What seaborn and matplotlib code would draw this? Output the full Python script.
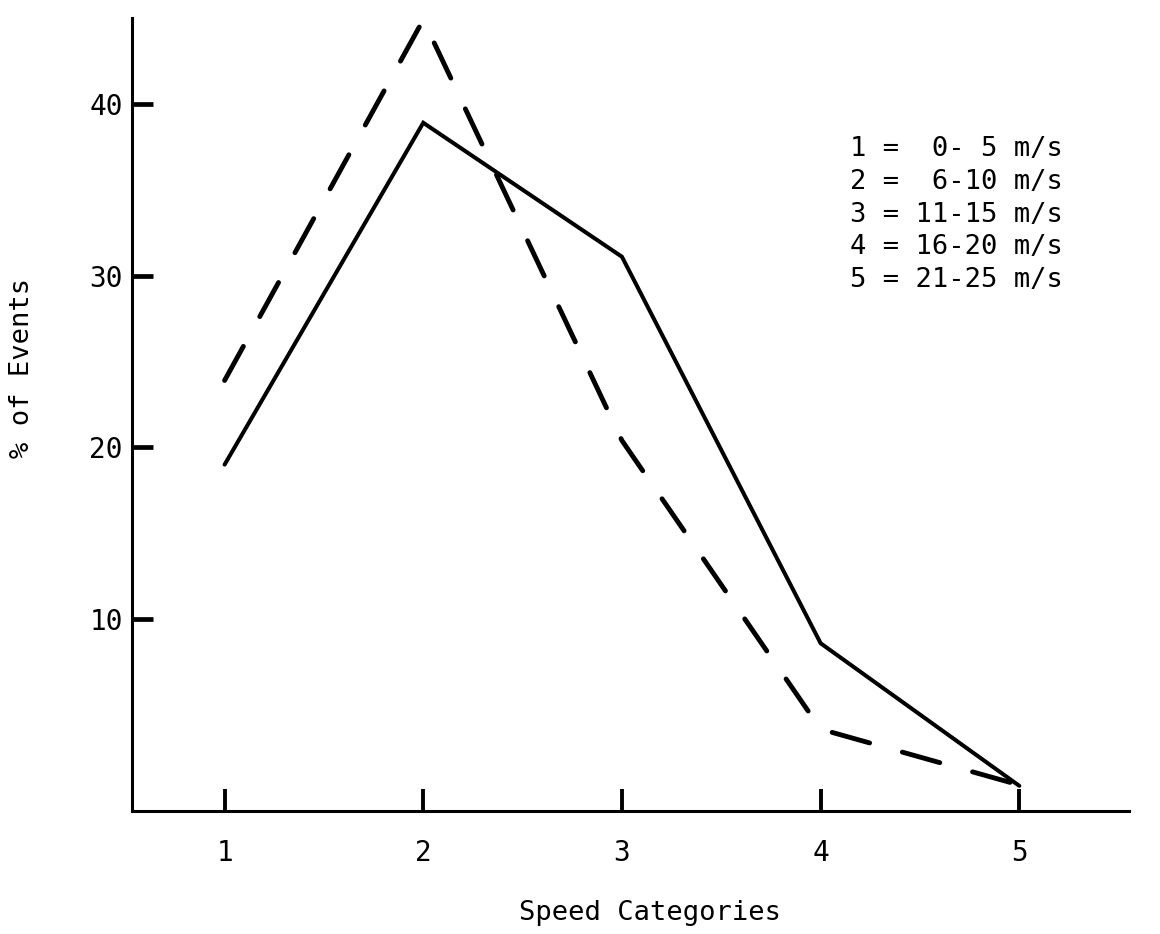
import matplotlib
matplotlib.use("Agg")
import matplotlib.pyplot as plt
import seaborn as sns
import pandas as pd

# ---- data ----
CATEGORIES = [1, 2, 3, 4, 5]
SOLID_PCT = [19.0, 38.9, 31.1, 8.6, 0.3]
DASHED_PCT = [23.9, 44.9, 20.4, 3.6, 0.35]
Y_TICKS = [10, 20, 30, 40]
SPEED_RANGES = ["0- 5", "6-10", "11-15", "16-20", "21-25"]
XLABEL = "Speed Categories"
YLABEL = "% of Events"

sns.set_style("white")
plt.rcParams["font.family"] = ["DejaVu Sans Mono", "DejaVu Sans"]

W, H = 1160, 934
fig = plt.figure(figsize=(W / 100, H / 100), dpi=100)
ax = fig.add_axes([132 / W, 1 - 811 / H, (1129 - 132) / W, (811 - 18) / H])

solid = pd.DataFrame({"cat": CATEGORIES, "pct": SOLID_PCT})
dashed = pd.DataFrame({"cat": CATEGORIES, "pct": DASHED_PCT})

sns.lineplot(data=solid, x="cat", y="pct", ax=ax, color="black", lw=2.9,
             solid_joinstyle="miter")
sns.lineplot(data=dashed, x="cat", y="pct", ax=ax, color="black", lw=3.5,
             linestyle=(0, (8, 7)), dash_capstyle="round", clip_on=False)

ax.set_xlim(0.534, 5.552)
ax.set_ylim(-1.164, 45.0)

for s in ["top", "right"]:
    ax.spines[s].set_visible(False)
for s in ["left", "bottom"]:
    ax.spines[s].set_color("black")
    ax.spines[s].set_linewidth(2.2)

ax.set_xticks(CATEGORIES)
ax.set_xticklabels([str(c) for c in CATEGORIES])
ax.set_yticks(Y_TICKS)
ax.set_yticklabels([str(v) for v in Y_TICKS])
ax.tick_params(axis="x", which="major", bottom=True, top=False, direction="in",
               length=16, width=2.8, pad=20, labelsize=20, colors="black")
ax.tick_params(axis="y", which="major", left=True, right=False, direction="in",
               length=15, width=3.4, pad=6.5, labelsize=20, colors="black")

ax.set_xlabel(XLABEL, fontsize=19.5, color="black")
ax.set_ylabel(YLABEL, fontsize=19.5, color="black")
ax.xaxis.set_label_coords((650 - 132) / 997, (811 - 913) / 793)
ax.xaxis.label.set_va("center")
ax.yaxis.set_label_coords((22 - 132) / 997, (811 - 368) / 793)
ax.yaxis.label.set_va("center")
ax.yaxis.label.set_ha("center")

for i, (c, r) in enumerate(zip(CATEGORIES, SPEED_RANGES)):
    fig.text(1063 / W, 1 - (156 + i * 32.75) / H, f"{c} = {r:>5} m/s",
             ha="right", va="baseline", fontsize=19.5, color="black")

fig.savefig("out.png", dpi=100, facecolor="white")
